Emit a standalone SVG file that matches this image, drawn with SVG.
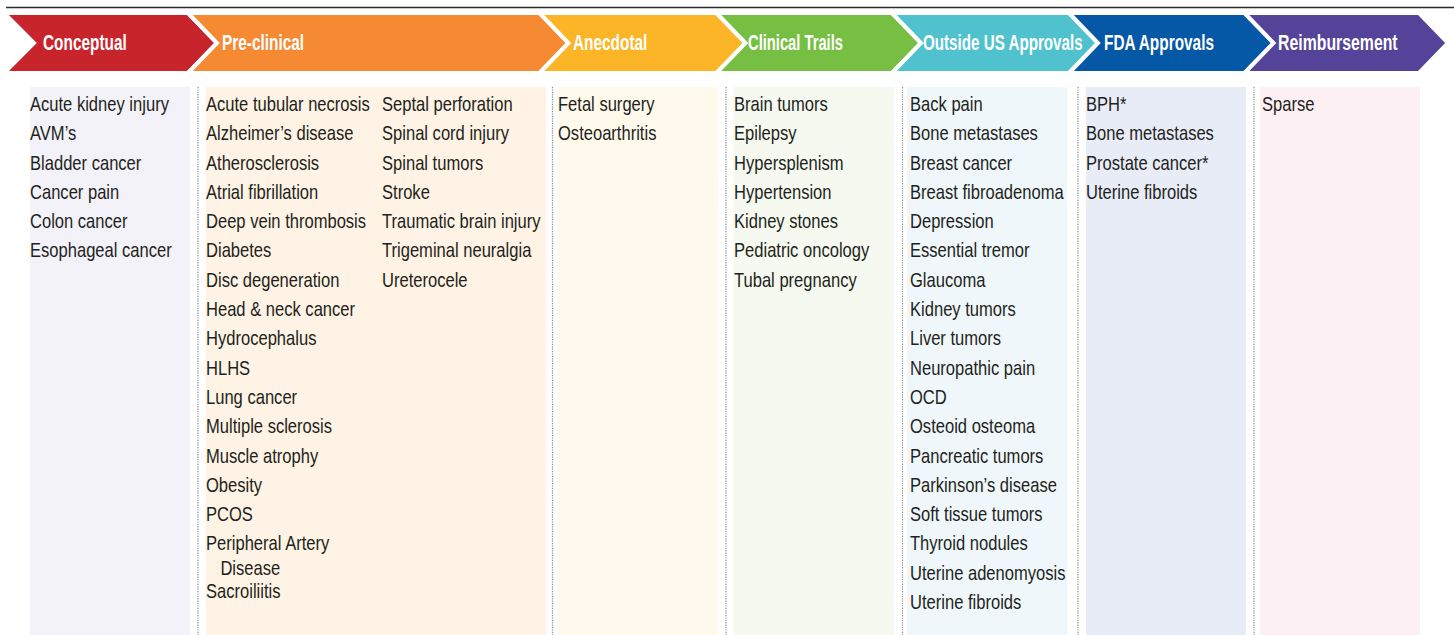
<svg xmlns="http://www.w3.org/2000/svg" width="1454" height="635" viewBox="0 0 1454 635">
<style>
.hd{font-family:"Liberation Sans",Arial,sans-serif;font-weight:bold;font-size:22px;fill:#ffffff}
.t{font-family:"Liberation Sans",Arial,sans-serif;font-size:20.7px;fill:#231f20}
.chev{stroke:#ffffff;stroke-width:4;stroke-linejoin:miter}
.sep{stroke:#8a8a8a;stroke-width:1.2;stroke-dasharray:1.2 1.2;fill:none}
</style>
<rect width="1454" height="635" fill="#ffffff"/>
<line x1="6" y1="7.5" x2="1454" y2="7.5" stroke="#2a2a2a" stroke-width="1.6"/>
<g id="stages">
<g id="stage-conceptual"><polygon class="chev" fill="#c8242b" points="4,13 188,13 217,43 188,73 4,73 34,43"/><text class="hd" transform="translate(43,50) scale(0.7,1)">Conceptual</text></g>
<g id="stage-preclinical"><polygon class="chev" fill="#f58a33" points="188,13 539.5,13 568.5,43 539.5,73 188,73 217,43"/><text class="hd" transform="translate(222,50) scale(0.7,1)">Pre-clinical</text></g>
<g id="stage-anecdotal"><polygon class="chev" fill="#fbb526" points="539.5,13 716.5,13 745.5,43 716.5,73 539.5,73 568.5,43"/><text class="hd" transform="translate(573,50) scale(0.7,1)">Anecdotal</text></g>
<g id="stage-clinical"><polygon class="chev" fill="#77bf43" points="716.5,13 892,13 921,43 892,73 716.5,73 745.5,43"/><text class="hd" transform="translate(748,50) scale(0.67,1)">Clinical Trails</text></g>
<g id="stage-outside"><polygon class="chev" fill="#4fc2ce" points="892,13 1069,13 1098,43 1069,73 892,73 921,43"/><text class="hd" transform="translate(923,50) scale(0.69,1)">Outside US Approvals</text></g>
<g id="stage-fda"><polygon class="chev" fill="#0558a6" points="1069,13 1244.5,13 1273.5,43 1244.5,73 1069,73 1098,43"/><text class="hd" transform="translate(1104,50) scale(0.7,1)">FDA Approvals</text></g>
<g id="stage-reimbursement"><polygon class="chev" fill="#55439a" points="1244.5,13 1419,13 1448,43 1419,73 1244.5,73 1273.5,43"/><text class="hd" transform="translate(1278,50) scale(0.72,1)">Reimbursement</text></g>
</g>
<g id="separators">
<line class="sep" x1="198" y1="87" x2="198" y2="635"/>
<line class="sep" x1="552.5" y1="87" x2="552.5" y2="635"/>
<line class="sep" x1="726" y1="87" x2="726" y2="635"/>
<line class="sep" x1="902.5" y1="87" x2="902.5" y2="635"/>
<line class="sep" x1="1078" y1="87" x2="1078" y2="635"/>
<line class="sep" x1="1254" y1="87" x2="1254" y2="635"/>
</g>
<g id="col-conceptual">
<rect x="30" y="87" width="160" height="548" fill="#f3f2f8"/>
<text class="t" transform="translate(30,111) scale(0.8,1)"><tspan x="0">Acute kidney injury</tspan><tspan x="0" dy="29.3">AVM’s</tspan><tspan x="0" dy="29.3">Bladder cancer</tspan><tspan x="0" dy="29.3">Cancer pain</tspan><tspan x="0" dy="29.3">Colon cancer</tspan><tspan x="0" dy="29.3">Esophageal cancer</tspan></text>
</g>
<g id="col-preclinical">
<rect x="206" y="87" width="340" height="548" fill="#fef3e4"/>
<text class="t" transform="translate(206,111) scale(0.8,1)"><tspan x="0">Acute tubular necrosis</tspan><tspan x="0" dy="29.3">Alzheimer’s disease</tspan><tspan x="0" dy="29.3">Atherosclerosis</tspan><tspan x="0" dy="29.3">Atrial fibrillation</tspan><tspan x="0" dy="29.3">Deep vein thrombosis</tspan><tspan x="0" dy="29.3">Diabetes</tspan><tspan x="0" dy="29.3">Disc degeneration</tspan><tspan x="0" dy="29.3">Head &amp; neck cancer</tspan><tspan x="0" dy="29.3">Hydrocephalus</tspan><tspan x="0" dy="29.3">HLHS</tspan><tspan x="0" dy="29.3">Lung cancer</tspan><tspan x="0" dy="29.3">Multiple sclerosis</tspan><tspan x="0" dy="29.3">Muscle atrophy</tspan><tspan x="0" dy="29.3">Obesity</tspan><tspan x="0" dy="29.3">PCOS</tspan><tspan x="0" dy="29.3">Peripheral Artery</tspan><tspan x="18" dy="24.3">Disease</tspan><tspan x="0" dy="23.3">Sacroiliitis</tspan></text>
<text class="t" transform="translate(382,111) scale(0.8,1)"><tspan x="0">Septal perforation</tspan><tspan x="0" dy="29.3">Spinal cord injury</tspan><tspan x="0" dy="29.3">Spinal tumors</tspan><tspan x="0" dy="29.3">Stroke</tspan><tspan x="0" dy="29.3">Traumatic brain injury</tspan><tspan x="0" dy="29.3">Trigeminal neuralgia</tspan><tspan x="0" dy="29.3">Ureterocele</tspan></text>
</g>
<g id="col-anecdotal">
<rect x="558" y="87" width="160" height="548" fill="#fffaec"/>
<text class="t" transform="translate(558,111) scale(0.8,1)"><tspan x="0">Fetal surgery</tspan><tspan x="0" dy="29.3">Osteoarthritis</tspan></text>
</g>
<g id="col-clinical">
<rect x="733.5" y="87" width="160.5" height="548" fill="#f5f9ef"/>
<text class="t" transform="translate(734,111) scale(0.8,1)"><tspan x="0">Brain tumors</tspan><tspan x="0" dy="29.3">Epilepsy</tspan><tspan x="0" dy="29.3">Hypersplenism</tspan><tspan x="0" dy="29.3">Hypertension</tspan><tspan x="0" dy="29.3">Kidney stones</tspan><tspan x="0" dy="29.3">Pediatric oncology</tspan><tspan x="0" dy="29.3">Tubal pregnancy</tspan></text>
</g>
<g id="col-outside">
<rect x="907" y="87" width="160" height="548" fill="#eff7fa"/>
<text class="t" transform="translate(910,111) scale(0.8,1)"><tspan x="0">Back pain</tspan><tspan x="0" dy="29.3">Bone metastases</tspan><tspan x="0" dy="29.3">Breast cancer</tspan><tspan x="0" dy="29.3">Breast fibroadenoma</tspan><tspan x="0" dy="29.3">Depression</tspan><tspan x="0" dy="29.3">Essential tremor</tspan><tspan x="0" dy="29.3">Glaucoma</tspan><tspan x="0" dy="29.3">Kidney tumors</tspan><tspan x="0" dy="29.3">Liver tumors</tspan><tspan x="0" dy="29.3">Neuropathic pain</tspan><tspan x="0" dy="29.3">OCD</tspan><tspan x="0" dy="29.3">Osteoid osteoma</tspan><tspan x="0" dy="29.3">Pancreatic tumors</tspan><tspan x="0" dy="29.3">Parkinson’s disease</tspan><tspan x="0" dy="29.3">Soft tissue tumors</tspan><tspan x="0" dy="29.3">Thyroid nodules</tspan><tspan x="0" dy="29.3">Uterine adenomyosis</tspan><tspan x="0" dy="29.3">Uterine fibroids</tspan></text>
</g>
<g id="col-fda">
<rect x="1086" y="87" width="160" height="548" fill="#e8ecf7"/>
<text class="t" transform="translate(1086,111) scale(0.8,1)"><tspan x="0">BPH*</tspan><tspan x="0" dy="29.3">Bone metastases</tspan><tspan x="0" dy="29.3">Prostate cancer*</tspan><tspan x="0" dy="29.3">Uterine fibroids</tspan></text>
</g>
<g id="col-reimbursement">
<rect x="1260" y="87" width="160" height="548" fill="#fdf0f4"/>
<text class="t" transform="translate(1262,111) scale(0.8,1)"><tspan x="0">Sparse</tspan></text>
</g>
</svg>
